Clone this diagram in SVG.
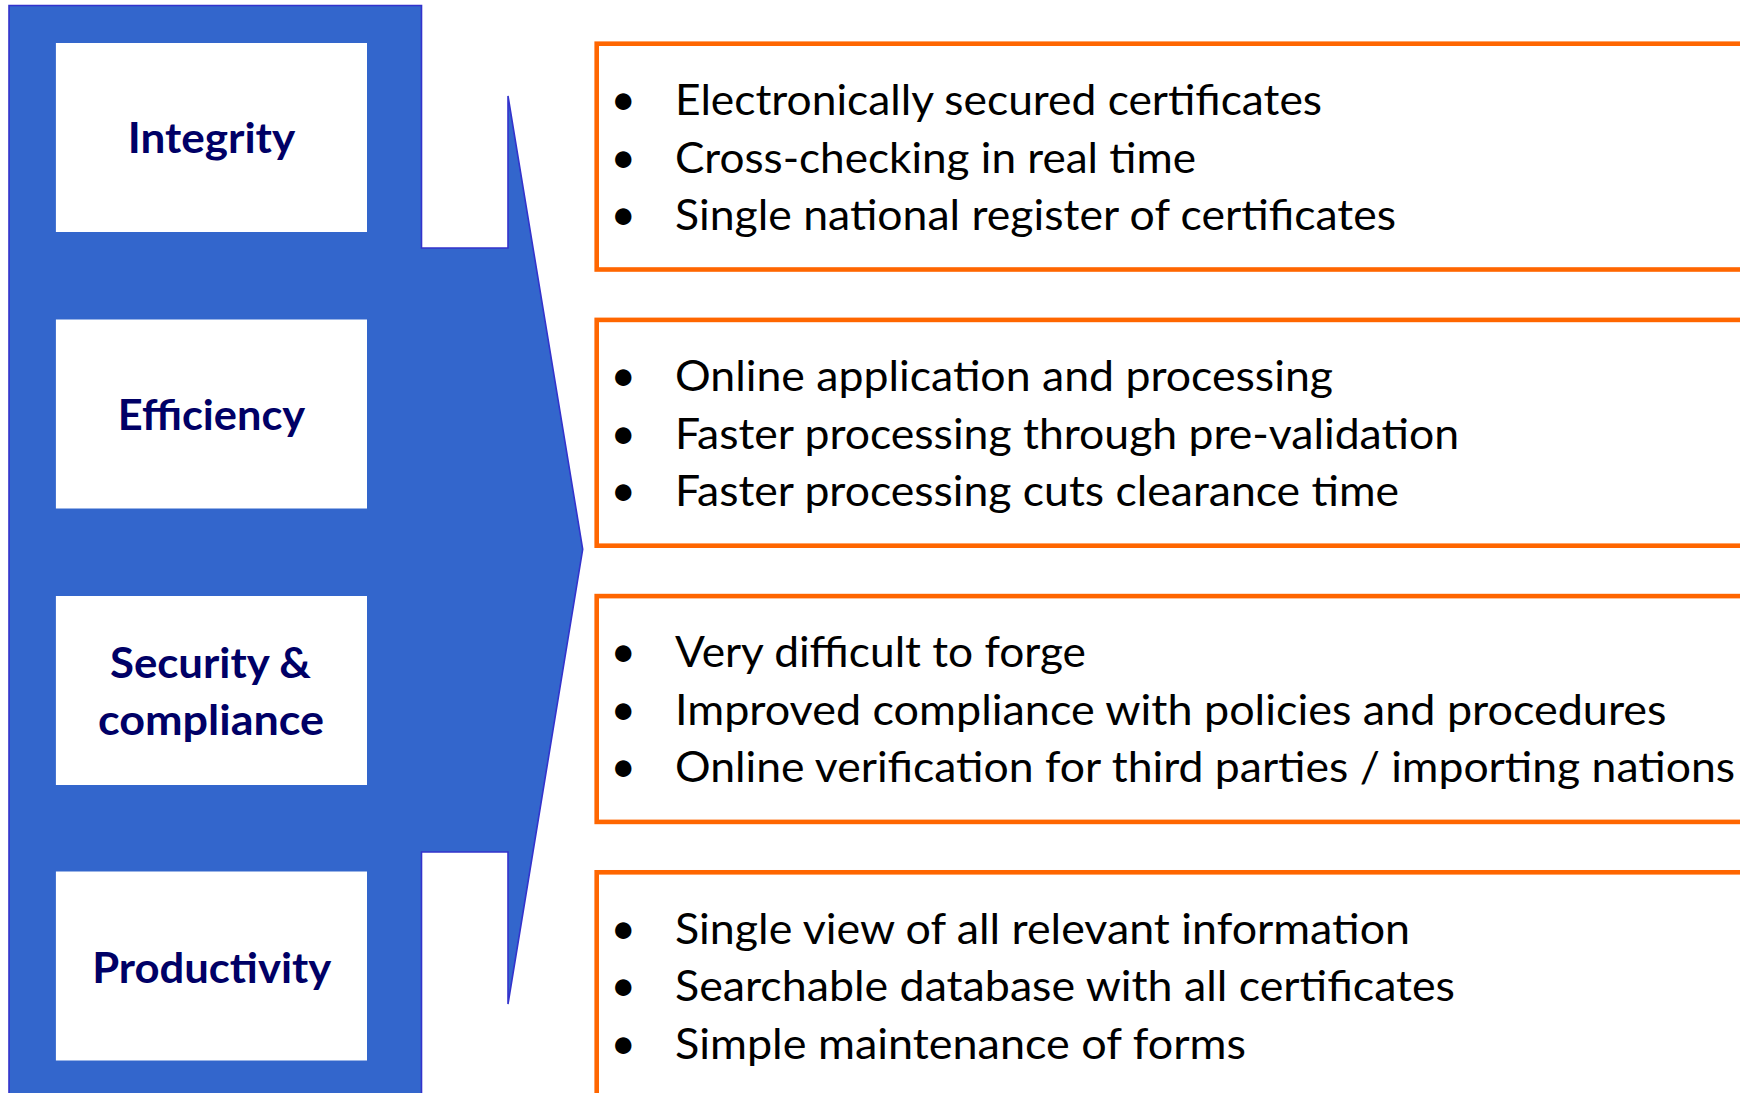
<svg xmlns="http://www.w3.org/2000/svg" width="1740" height="1093" viewBox="0 0 1740 1093">
<style>
.lbl{font-family:Lato,"Open Sans","Liberation Sans",sans-serif;font-weight:bold;font-size:42px;fill:#000066;text-anchor:middle}
.txt{font-family:Lato,"Open Sans","Liberation Sans",sans-serif;font-size:42px;fill:#000000}
.bul{font-family:Lato,"Open Sans","Liberation Sans",sans-serif;font-size:44px;fill:#000000;text-anchor:middle}
.wbox{fill:#FFFFFF}
.obox{fill:#FFFFFF;stroke:#FF6600;stroke-width:4.6}
</style>
<rect width="1740" height="1093" fill="#FFFFFF"/>
<g id="arrow">
<polygon points="9,5.5 421.5,5.5 421.5,248 508,248 508,96 582.7,549.3 508,1004 508,852 421.5,852 421.5,1100 9,1100" fill="#3366CC" stroke="#3333CC" stroke-width="1.6"/>
</g>
<g id="connectors"></g>
<g id="node-integrity">
<rect class="wbox" x="55.9" y="43" width="311.1" height="189"/>
<text class="lbl" x="211.5" y="153.3" textLength="167.5" lengthAdjust="spacingAndGlyphs">Integrity</text>
</g>
<g id="node-efficiency">
<rect class="wbox" x="55.9" y="319.5" width="311.1" height="189"/>
<text class="lbl" x="211.5" y="430" textLength="187.5" lengthAdjust="spacingAndGlyphs">Efficiency</text>
</g>
<g id="node-security">
<rect class="wbox" x="55.9" y="596" width="311.1" height="189"/>
<text class="lbl" x="210.5" y="678.3" textLength="201" lengthAdjust="spacingAndGlyphs">Security &amp;</text>
<text class="lbl" x="211" y="735.3" textLength="226" lengthAdjust="spacingAndGlyphs">compliance</text>
</g>
<g id="node-productivity">
<rect class="wbox" x="55.9" y="871.5" width="311.1" height="189"/>
<text class="lbl" x="211.7" y="982.7" textLength="239" lengthAdjust="spacingAndGlyphs">Productivity</text>
</g>
<g id="box-integrity">
<rect class="obox" x="596.7" y="43.7" width="1200" height="225.8"/>
<text class="bul" x="623.3" y="115">•</text>
<text class="bul" x="623.3" y="172.5">•</text>
<text class="bul" x="623.3" y="230">•</text>
<text class="txt" x="675" y="115" textLength="647" lengthAdjust="spacingAndGlyphs">Electronically secured certificates</text>
<text class="txt" x="675" y="172.5" textLength="521" lengthAdjust="spacingAndGlyphs">Cross-checking in real time</text>
<text class="txt" x="675" y="230" textLength="721" lengthAdjust="spacingAndGlyphs">Single national register of certificates</text>
</g>
<g id="box-efficiency">
<rect class="obox" x="596.7" y="319.9" width="1200" height="225.8"/>
<text class="bul" x="623.3" y="391.2">•</text>
<text class="bul" x="623.3" y="448.7">•</text>
<text class="bul" x="623.3" y="506.2">•</text>
<text class="txt" x="675" y="391.2" textLength="658" lengthAdjust="spacingAndGlyphs">Online application and processing</text>
<text class="txt" x="675" y="448.7" textLength="784" lengthAdjust="spacingAndGlyphs">Faster processing through pre-validation</text>
<text class="txt" x="675" y="506.2" textLength="724" lengthAdjust="spacingAndGlyphs">Faster processing cuts clearance time</text>
</g>
<g id="box-security">
<rect class="obox" x="596.7" y="596.1" width="1200" height="225.8"/>
<text class="bul" x="623.3" y="667.4">•</text>
<text class="bul" x="623.3" y="724.9">•</text>
<text class="bul" x="623.3" y="782.4">•</text>
<text class="txt" x="675" y="667.4" textLength="411" lengthAdjust="spacingAndGlyphs">Very difficult to forge</text>
<text class="txt" x="675" y="724.9" textLength="991.5" lengthAdjust="spacingAndGlyphs">Improved compliance with policies and procedures</text>
<text class="txt" x="675" y="782.4" textLength="1060" lengthAdjust="spacingAndGlyphs">Online verification for third parties / importing nations</text>
</g>
<g id="box-productivity">
<rect class="obox" x="596.7" y="872.3" width="1200" height="260"/>
<text class="bul" x="623.3" y="943.6">•</text>
<text class="bul" x="623.3" y="1001.1">•</text>
<text class="bul" x="623.3" y="1058.6">•</text>
<text class="txt" x="675" y="943.6" textLength="735" lengthAdjust="spacingAndGlyphs">Single view of all relevant information</text>
<text class="txt" x="675" y="1001.1" textLength="780" lengthAdjust="spacingAndGlyphs">Searchable database with all certificates</text>
<text class="txt" x="675" y="1058.6" textLength="571" lengthAdjust="spacingAndGlyphs">Simple maintenance of forms</text>
</g>
</svg>
